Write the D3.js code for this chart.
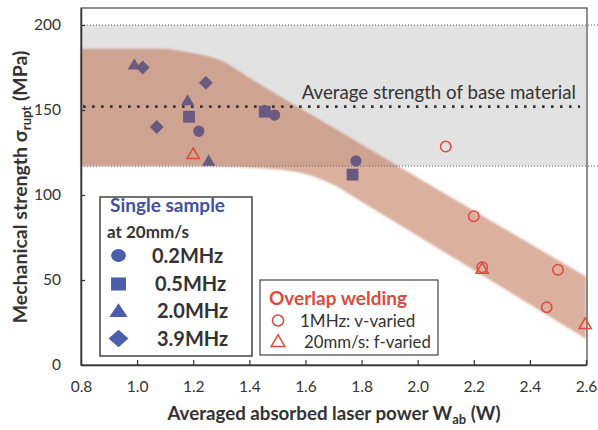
<!DOCTYPE html>
<html>
<head>
<meta charset="utf-8">
<script src="https://cdn.jsdelivr.net/npm/d3@7"></script>
<style>
  html, body { margin: 0; padding: 0; background: #fff; }
  svg { display: block; font-family: Lato, "Open Sans", sans-serif; }
</style>
</head>
<body>
<svg id="chart" width="598" height="430"></svg>
<script>
// Axis ticks
const xTicks = [0.8, 1.0, 1.2, 1.4, 1.6, 1.8, 2.0, 2.2, 2.4, 2.6];
const yTicks = [0, 50, 100, 150, 200];

// Single-sample welds at 20 mm/s, by repetition rate: [W_ab (W), strength (MPa)]
const single02MHz = [[1.22, 137.5], [1.49, 147], [1.78, 120]];
const single05MHz = [[1.185, 146], [1.455, 149], [1.768, 112]];
const single20MHz = [[0.99, 176], [1.18, 155], [1.255, 119.5]];
const single39MHz = [[1.02, 175], [1.07, 140], [1.245, 166]];

// Overlap welding
const overlapVaried = [[2.10, 128.5], [2.20, 87.5], [2.23, 57.5], [2.46, 34], [2.50, 56]];
const overlapFVaried = [[1.20, 123.5], [2.23, 56], [2.597, 23.5]];

// Base material reference: scatter range and mean
const baseRange = [117, 200];
const baseMean = 152;

// Trend band: [W_ab, lower, upper]
const bandX = [0.8, 1.08, 1.18, 1.30, 1.41, 1.55, 1.62, 1.70, 1.80, 2.6];
const bandLow = [117, 117, 117, 116.8, 116, 114, 111.5, 106, 96, 15.5];
const bandHigh = [186, 186, 184, 179, 168, 154, 147.2, 139.5, 129.7, 52];

const svg = d3.select("#chart");
const plotL = 81, plotR = 586, plotT = 8, plotB = 365;

const x = d3.scaleLinear().domain([0.8, 2.6]).range([plotL, plotR]);
const y = d3.scaleLinear().domain([0, 210]).range([plotB, plotT]);

const purple = "#6b5a80";
const blue = "#4a5eab";
const red = "#de4a3e";
const ink = "#333";

const defs = svg.append("defs");
defs.append("filter").attr("id", "soft")
  .attr("x", "-5%").attr("y", "-5%").attr("width", "110%").attr("height", "110%")
  .append("feGaussianBlur").attr("stdDeviation", 0.9);

// Base-material strength range
svg.append("rect")
  .attr("x", plotL).attr("width", plotR - plotL)
  .attr("y", y(baseRange[1])).attr("height", y(baseRange[0]) - y(baseRange[1]))
  .attr("fill", "#e2e2e2");

// Trend band
const bandData = bandX.map((v, i) => ({ x: v, lo: bandLow[i], hi: bandHigh[i] }));
svg.append("path")
  .datum(bandData)
  .attr("d", d3.area()
    .x(d => x(d.x)).y0(d => y(d.lo)).y1(d => y(d.hi))
    .curve(d3.curveMonotoneX))
  .attr("fill", "rgb(190,110,80)")
  .attr("fill-opacity", 0.55)
  .attr("filter", "url(#soft)");

// Range limits (thin dotted) and mean (heavy dotted)
baseRange.forEach(v => {
  svg.append("line")
    .attr("x1", plotL).attr("x2", 598)
    .attr("y1", y(v)).attr("y2", y(v))
    .attr("stroke", "#666").attr("stroke-width", 1)
    .attr("stroke-dasharray", "1,2");
});
svg.append("line")
  .attr("x1", plotL + 2).attr("x2", 580)
  .attr("y1", y(baseMean)).attr("y2", y(baseMean))
  .attr("stroke", "#333").attr("stroke-width", 2.6)
  .attr("stroke-dasharray", "2.6,6.4");

svg.append("text")
  .attr("x", 576).attr("y", y(baseMean) - 8)
  .attr("text-anchor", "end")
  .attr("font-size", 18.7).attr("fill", ink)
  .text("Average strength of base material");

// Frame
svg.append("rect")
  .attr("x", plotL).attr("y", plotT)
  .attr("width", plotR + 1 - plotL).attr("height", plotB - plotT)
  .attr("fill", "none").attr("stroke", "#444").attr("stroke-width", 1.2);

// Axes
const xAxis = svg.append("g")
  .attr("transform", `translate(0,${plotB})`)
  .call(d3.axisBottom(x).tickValues(xTicks).tickFormat(d3.format(".1f"))
    .tickSizeInner(-5).tickSizeOuter(0).tickPadding(16));
const yAxis = svg.append("g")
  .attr("transform", `translate(${plotL},0)`)
  .call(d3.axisLeft(y).tickValues(yTicks).tickSizeInner(-4).tickSizeOuter(0).tickPadding(20));
[xAxis, yAxis].forEach(g => {
  g.select(".domain").attr("stroke", "#333").attr("stroke-width", 1.5);
  g.selectAll(".tick line").attr("stroke", "#333").attr("stroke-width", 1.2);
  g.selectAll(".tick text").attr("fill", ink).attr("font-size", 15.5)
    .attr("font-family", "Lato, sans-serif");
});

// Axis titles
const xt = svg.append("text")
  .attr("x", 334).attr("y", 420)
  .attr("text-anchor", "middle")
  .attr("font-size", 18.7).attr("font-weight", "bold").attr("fill", ink);
xt.append("tspan").text("Averaged absorbed laser power W");
xt.append("tspan").attr("font-size", 13).attr("dy", 4).text("ab");
xt.append("tspan").attr("dy", -4).text(" (W)");

const yt = svg.append("text")
  .attr("transform", "translate(27,187) rotate(-90)")
  .attr("text-anchor", "middle")
  .attr("font-size", 19.5).attr("font-weight", "bold").attr("fill", ink);
yt.append("tspan").text("Mechanical strength σ");
yt.append("tspan").attr("font-size", 13).attr("dy", 4).text("rupt");
yt.append("tspan").attr("dy", -4).text(" (MPa)");

// Marker shapes
const diamond = {
  draw(ctx, size) {
    const r = Math.sqrt(size / 2);
    ctx.moveTo(0, -r); ctx.lineTo(r, 0); ctx.lineTo(0, r); ctx.lineTo(-r, 0); ctx.closePath();
  }
};
const shapes = {
  circle: d3.symbol(d3.symbolCircle, 100),
  square: d3.symbol(d3.symbolSquare, 140),
  triangle: d3.symbol(d3.symbolTriangle, 75),
  diamond: d3.symbol(diamond, 95)
};

function filled(data, shape, color) {
  svg.append("g").selectAll("path").data(data).join("path")
    .attr("transform", d => `translate(${x(d[0])},${y(d[1])})`)
    .attr("d", shapes[shape]())
    .attr("fill", color);
}
function open(data, symbol) {
  svg.append("g").selectAll("path").data(data).join("path")
    .attr("transform", d => `translate(${x(d[0])},${y(d[1])})`)
    .attr("d", symbol())
    .attr("fill", "none").attr("stroke", red).attr("stroke-width", 1.5);
}

filled(single02MHz, "circle", purple);
filled(single05MHz, "square", purple);
filled(single20MHz, "triangle", purple);
filled(single39MHz, "diamond", purple);
open(overlapFVaried, d3.symbol(d3.symbolTriangle, 65));
open(overlapVaried, d3.symbol(d3.symbolCircle, 85));

// Legend: single sample
const lg1 = svg.append("g");
lg1.append("rect").attr("x", 100).attr("y", 197).attr("width", 152).attr("height", 159)
  .attr("fill", "#fff").attr("stroke", "#444").attr("stroke-width", 1.5);
lg1.append("text").attr("x", 110).attr("y", 212)
  .attr("font-size", 19).attr("font-weight", "bold").attr("fill", "#3f52a3")
  .text("Single sample");
lg1.append("text").attr("x", 107).attr("y", 237.5)
  .attr("font-size", 17).attr("font-weight", "bold").attr("fill", ink)
  .text("at 20mm/s");
const lg1Items = [
  { shape: "circle", label: "0.2MHz", tx: 152, sy: 255.5, ty: 263 },
  { shape: "square", label: "0.5MHz", tx: 155, sy: 284, ty: 290.5 },
  { shape: "triangle", label: "2.0MHz", tx: 157, sy: 312.5, ty: 318 },
  { shape: "diamond", label: "3.9MHz", tx: 157, sy: 338.5, ty: 345.5 }
];
const lgShapes = {
  circle: d3.symbol(d3.symbolCircle, 130),
  square: d3.symbol(d3.symbolSquare, 170),
  triangle: d3.symbol(d3.symbolTriangle, 110),
  diamond: d3.symbol(diamond, 150)
};
lg1Items.forEach(it => {
  lg1.append("path")
    .attr("transform", `translate(118.5,${it.sy}) scale(1.15,1)`)
    .attr("d", lgShapes[it.shape]()).attr("fill", blue);
  lg1.append("text").attr("x", it.tx).attr("y", it.ty)
    .attr("font-size", 20).attr("font-weight", "bold").attr("fill", ink)
    .text(it.label);
});

// Legend: overlap welding
const lg2 = svg.append("g");
lg2.append("rect").attr("x", 260).attr("y", 280).attr("width", 178).attr("height", 75)
  .attr("fill", "#fff").attr("stroke", "#444").attr("stroke-width", 1.2);
lg2.append("text").attr("x", 269).attr("y", 304.5)
  .attr("font-size", 19).attr("font-weight", "bold").attr("fill", red)
  .text("Overlap welding");
lg2.append("path").attr("transform", "translate(278,320.5)")
  .attr("d", d3.symbol(d3.symbolCircle, 95)())
  .attr("fill", "none").attr("stroke", red).attr("stroke-width", 1.5);
lg2.append("path").attr("transform", "translate(278,342.5)")
  .attr("d", d3.symbol(d3.symbolTriangle, 80)())
  .attr("fill", "none").attr("stroke", red).attr("stroke-width", 1.5);
lg2.append("text").attr("x", 300).attr("y", 326.5)
  .attr("font-size", 17).attr("fill", ink).text("1MHz: v-varied");
lg2.append("text").attr("x", 304).attr("y", 347.5)
  .attr("font-size", 16.8).attr("fill", ink).text("20mm/s: f-varied");
</script>
</body>
</html>
